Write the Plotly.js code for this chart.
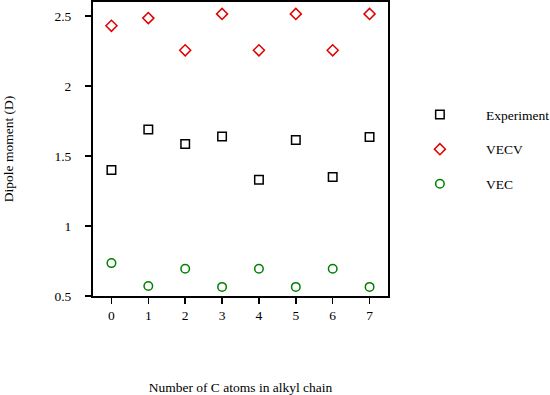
<!DOCTYPE html>
<html><head><meta charset="utf-8">
<script src="https://cdn.plot.ly/plotly-3.0.1.min.js"></script>
<style>html,body{margin:0;padding:0;background:#fff}#chart{width:550px;height:395px}</style>
</head><body><div id="chart"></div>
<script>
var carbons = [0, 1, 2, 3, 4, 5, 6, 7];
var experiment = [1.40, 1.69, 1.585, 1.64, 1.33, 1.615, 1.35, 1.635];
var vecv = [2.43, 2.485, 2.255, 2.515, 2.255, 2.515, 2.255, 2.515];
var vec = [0.735, 0.572, 0.695, 0.565, 0.695, 0.565, 0.695, 0.565];
var tickLabels = ['0','1','2','3','4','5','6','7'];

var font = {family: '"Liberation Serif", "Times New Roman", serif', size: 13.5, color: '#000'};
function tr(name, y, sym, col, grp) {
  return {x: carbons, y: y, name: name, type: 'scatter', mode: 'markers', legendgroup: grp,
    marker: {symbol: sym, size: 8.5, color: col, line: {width: 1.5, color: col}}};
}
var data = [
  tr('Experiment', experiment, 'square-open', '#000', 'a'),
  tr('VECV', vecv, 'diamond-open', '#e00000', 'b'),
  tr('VEC', vec, 'circle-open', '#008000', 'c')
];
var layout = {
  width: 550, height: 395,
  margin: {l: 93, r: 162, t: 2, b: 99, autoexpand: false},
  paper_bgcolor: '#fff', plot_bgcolor: '#fff',
  font: font,
  showlegend: true,
  legend: {x: 1.02, xanchor: 'left', y: 0.669, yanchor: 'top', font: font,
    tracegroupgap: 14, itemwidth: 82, bgcolor: 'rgba(0,0,0,0)'},
  xaxis: {range: [-0.5, 7.5], tickvals: carbons, ticktext: tickLabels, showgrid: false, zeroline: false,
    showline: true, linecolor: '#000', linewidth: 2, mirror: true, ticks: 'outside', ticklen: 6, tickwidth: 1.5,
    tickcolor: '#000', tickfont: font,
    title: {text: 'Number of C atoms in alkyl chain', font: font, standoff: 62}},
  yaxis: {range: [0.5, 2.6], tickvals: [0.5, 1, 1.5, 2, 2.5], ticktext: ['0.5','1','1.5','2','2.5'],
    showgrid: false, zeroline: false,
    showline: true, linecolor: '#000', linewidth: 2, mirror: true, ticks: 'outside', ticklen: 6, tickwidth: 1.5,
    tickcolor: '#000', tickfont: font, ticklabelstandoff: 11,
    title: {text: 'Dipole moment (D)', font: font, standoff: 38}}
};
Plotly.newPlot('chart', data, layout, {displayModeBar: false, staticPlot: true});
</script></body></html>
